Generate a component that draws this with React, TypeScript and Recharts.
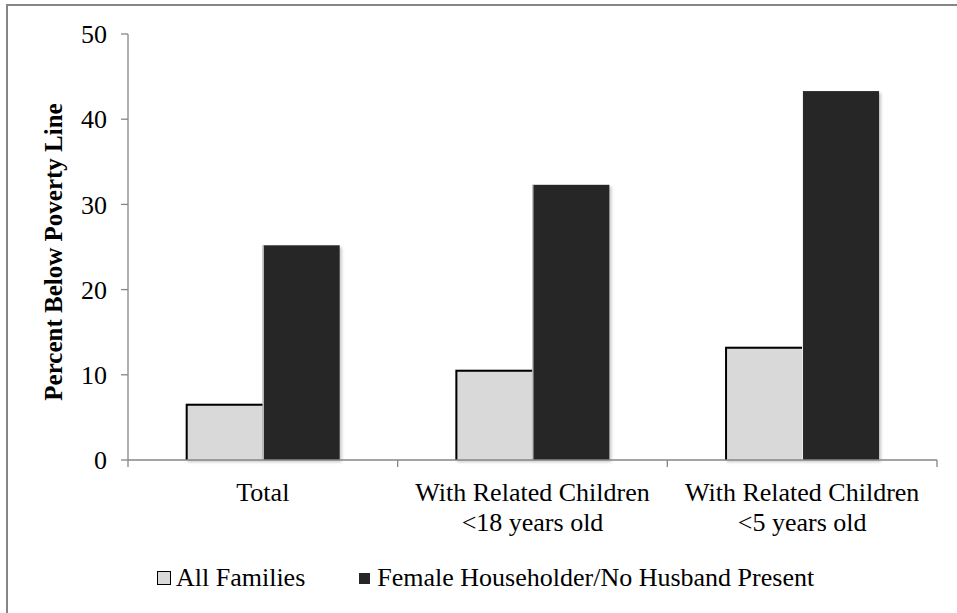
import React from 'react';
import { BarChart, Bar, XAxis, YAxis } from 'recharts';

const categories = ['Total', 'With Related Children\n<18 years old', 'With Related Children\n<5 years old'];
const allFamilies = [6.6, 10.6, 13.3];
const femaleHouseholder = [25.2, 32.3, 43.3];
const yTicks = [0, 10, 20, 30, 40, 50];
const seriesNames = ['All Families', 'Female Householder/No Husband Present'];
const yTitle = 'Percent Below Poverty Line';

const data = categories.map((c, i) => ({ category: c, all: allFamilies[i], female: femaleHouseholder[i] }));

const W = 957;
const H = 613;
const X_H = 30;
const MARGIN = { top: 34, right: 20, bottom: 153 - X_H, left: 0 };
const Y_W = 128;
const PLOT_W = W - MARGIN.left - MARGIN.right - Y_W;
const FONT = 'Liberation Serif, Tinos, DejaVu Serif, serif';
const AXIS = '#868686';
const LIGHT = '#d9d9d9';
const DARK = '#262626';

const XTick = (props: any) => {
  const { x, y, payload, index } = props;
  const band = PLOT_W / categories.length;
  const lines = String(payload.value).split('\n');
  const left = x - band / 2;
  return (
    <g>
      <line x1={left} x2={left} y1={y} y2={y + 7} stroke={AXIS} strokeWidth={1.3} />
      {index === categories.length - 1 && (
        <line x1={x + band / 2} x2={x + band / 2} y1={y} y2={y + 7} stroke={AXIS} strokeWidth={1.3} />
      )}
      <text x={x} y={y + 41} textAnchor="middle" style={{ fontFamily: FONT }} fontSize={26} fill="#000">
        {lines.map((l, i) => (
          <tspan key={i} x={x} dy={i === 0 ? 0 : 30}>
            {l}
          </tspan>
        ))}
      </text>
    </g>
  );
};

const LightBar = (props: any) => {
  const { x, y, width, height } = props;
  if (!height) return null;
  return (
    <g filter="url(#barShadow)">
      <rect x={x} y={y} width={width} height={height} fill={LIGHT} />
      <path d={`M${x + 1},${y + height}V${y + 1}H${x + width}`} stroke="#000" strokeWidth={2} fill="none" />
    </g>
  );
};

const DarkBar = (props: any) => {
  const { x, y, width, height } = props;
  if (!height) return null;
  return (
    <g filter="url(#barShadow)">
      <rect x={x} y={y} width={width} height={height} fill={DARK} />
      <line x1={x + 0.5} x2={x + 0.5} y1={y} y2={y + height} stroke="#f2f2f2" strokeWidth={1} />
    </g>
  );
};

const YTitle = () => (
  <text
    x={62}
    y={252}
    transform="rotate(-90 62 252)"
    textAnchor="middle"
    style={{ fontFamily: FONT }}
    fontSize={25}
    fontWeight="bold"
    fill="#000"
  >
    {yTitle}
  </text>
);

export default function App() {
  return (
    <div style={{ position: 'absolute', left: 0, top: 0, width: W, height: H, overflow: 'hidden', background: '#fff', fontFamily: FONT }}>
      <div
        style={{
          position: 'absolute',
          left: 6,
          top: 4,
          width: 1100,
          height: 800,
          border: `2px solid ${AXIS}`,
          boxSizing: 'border-box',
        }}
      />
      <div style={{ position: 'absolute', left: 0, top: 0 }}>
        <BarChart width={W} height={H} data={data} margin={MARGIN} barCategoryGap="21.4%" barGap={0}>
          <defs>
            <filter id="barShadow" x="-10%" y="-10%" width="130%" height="130%">
              <feDropShadow dx="2" dy="2" stdDeviation="1.6" floodColor="#000" floodOpacity="0.22" />
            </filter>
          </defs>
          <XAxis
            dataKey="category"
            height={X_H}
            tick={<XTick />}
            tickLine={false}
            tickSize={0}
            tickMargin={0}
            axisLine={{ stroke: AXIS, strokeWidth: 1.3 }}
            interval={0}
          />
          <YAxis
            width={Y_W}
            domain={[0, 50]}
            ticks={yTicks}
            tickSize={7}
            tickMargin={14}
            axisLine={{ stroke: AXIS, strokeWidth: 1.3 }}
            tickLine={{ stroke: AXIS, strokeWidth: 1.3 }}
            tick={{ style: { fontFamily: FONT }, fontSize: 26, fill: '#000' }}
            label={(p: any) => <YTitle />}
          />
          <Bar dataKey="all" name={seriesNames[0]} shape={<LightBar />} isAnimationActive={false} />
          <Bar dataKey="female" name={seriesNames[1]} shape={<DarkBar />} isAnimationActive={false} />
        </BarChart>
      </div>
      <div
        style={{
          position: 'absolute',
          left: 157,
          top: 563,
          display: 'flex',
          alignItems: 'center',
          fontFamily: FONT,
          fontSize: 26,
          lineHeight: '30px',
          color: '#000',
          whiteSpace: 'nowrap',
        }}
      >
        <span style={{ display: 'inline-block', width: 12, height: 12, background: LIGHT, border: '1px solid #000', marginRight: 5 }} />
        <span style={{ marginRight: 54 }}>{seriesNames[0]}</span>
        <span style={{ display: 'inline-block', width: 11, height: 11, background: DARK, marginRight: 7 }} />
        <span>{seriesNames[1]}</span>
      </div>
    </div>
  );
}
